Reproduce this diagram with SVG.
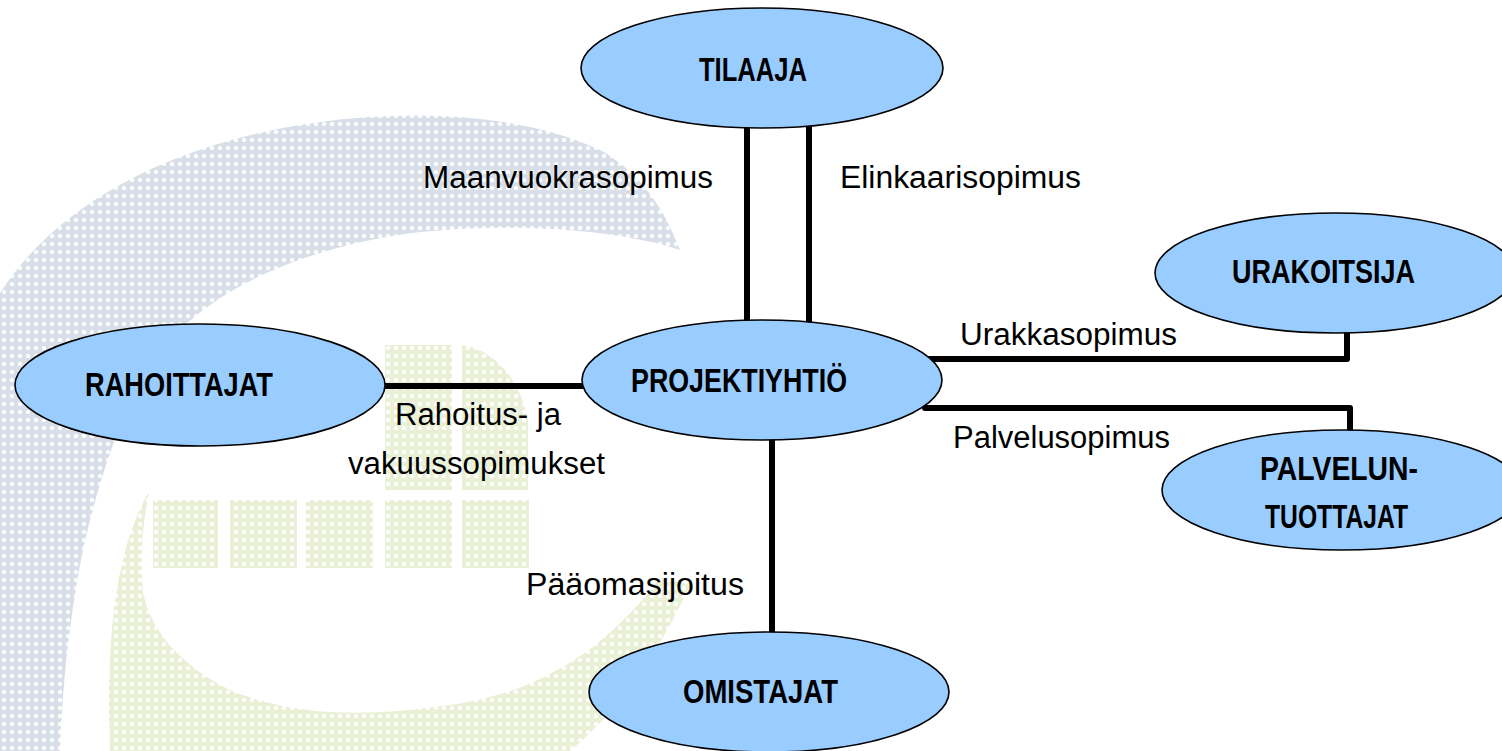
<svg xmlns="http://www.w3.org/2000/svg" width="1502" height="751" viewBox="0 0 1502 751">
<style>
.node{fill:#99ccff;stroke:#000;stroke-width:1.6}
.nt{font-family:"Liberation Sans",Arial,sans-serif;font-weight:bold;font-size:33px;fill:#000}
.lt{font-family:"Liberation Sans",Arial,sans-serif;font-size:31px;fill:#000}
.cn{fill:none;stroke:#000;stroke-width:6;stroke-linejoin:round;stroke-linecap:round}
</style>
<defs>
<pattern id="dotGrey" width="8" height="8" patternUnits="userSpaceOnUse">
<rect width="8" height="8" fill="#d9dfe8"/>
<rect x="2" y="2" width="4" height="4" rx="1.5" fill="#ffffff"/>
</pattern>
<pattern id="dotGreen" width="8" height="8" patternUnits="userSpaceOnUse">
<rect width="8" height="8" fill="#e9f0d6"/>
<rect x="2" y="2" width="4" height="4" rx="1.5" fill="#ffffff"/>
</pattern>
</defs>
<rect width="1502" height="751" fill="#ffffff"/>
<g id="watermark">
<path fill="url(#dotGrey)" d="M0,293 C50,215 150,150 300,125 C400,108 520,112 600,150 C640,172 665,210 680,250 C620,230 520,222 420,232 C320,244 230,280 180,330 C130,380 105,460 85,540 C70,610 62,690 60,751 L0,751 Z"/>
<path fill="url(#dotGreen)" d="M150,490 C120,540 105,620 110,751 L570,751 C620,710 660,650 690,585 L660,578 C620,630 560,690 450,705 C380,715 300,720 230,690 C180,665 150,630 143,592 C140,560 142,520 150,490 Z"/>
<g fill="url(#dotGreen)">
<rect x="153" y="500" width="65" height="68"/>
<rect x="230" y="500" width="67" height="68"/>
<rect x="306" y="500" width="67" height="68"/>
<rect x="385" y="500" width="67" height="68"/>
<rect x="462" y="500" width="67" height="68"/>
<rect x="385" y="345" width="67" height="145"/>
<path d="M462,345 C495,350 520,380 528,420 L528,490 L462,490 Z"/>
</g>
</g>
<g id="connectors">
<line class="cn" x1="747" y1="120" x2="747" y2="330"/>
<line class="cn" x1="809" y1="120" x2="809" y2="330"/>
<line class="cn" x1="380" y1="386" x2="590" y2="386"/>
<polyline class="cn" points="925,359 1347,359 1347,325"/>
<polyline class="cn" points="925,408 1350,408 1350,440"/>
<line class="cn" x1="772" y1="435" x2="772" y2="640"/>
<text class="lt" x="423" y="188" textLength="290" lengthAdjust="spacingAndGlyphs">Maanvuokrasopimus</text>
<text class="lt" x="840" y="188" textLength="241" lengthAdjust="spacingAndGlyphs">Elinkaarisopimus</text>
<text class="lt" x="960" y="345" textLength="217" lengthAdjust="spacingAndGlyphs">Urakkasopimus</text>
<text class="lt" x="953" y="448" textLength="217" lengthAdjust="spacingAndGlyphs">Palvelusopimus</text>
<text class="lt" x="395" y="425" textLength="166" lengthAdjust="spacingAndGlyphs">Rahoitus- ja</text>
<text class="lt" x="348" y="474" textLength="257" lengthAdjust="spacingAndGlyphs">vakuussopimukset</text>
<text class="lt" x="526" y="595" textLength="218" lengthAdjust="spacingAndGlyphs">Pääomasijoitus</text>
</g>
<g id="node-tilaaja">
<ellipse class="node" cx="762" cy="68" rx="181" ry="60"/>
<text class="nt" x="699" y="81" textLength="108" lengthAdjust="spacingAndGlyphs">TILAAJA</text>
</g>
<g id="node-urakoitsija">
<ellipse class="node" cx="1335" cy="273" rx="180" ry="60"/>
<text class="nt" x="1232" y="283" textLength="183" lengthAdjust="spacingAndGlyphs">URAKOITSIJA</text>
</g>
<g id="node-projektiyhtio">
<ellipse class="node" cx="762" cy="380" rx="180" ry="60"/>
<text class="nt" x="631" y="392" textLength="216" lengthAdjust="spacingAndGlyphs">PROJEKTIYHTIÖ</text>
</g>
<g id="node-rahoittajat">
<ellipse class="node" cx="200" cy="385" rx="185" ry="61"/>
<text class="nt" x="85" y="396" textLength="188" lengthAdjust="spacingAndGlyphs">RAHOITTAJAT</text>
</g>
<g id="node-palveluntuottajat">
<ellipse class="node" cx="1342" cy="490" rx="180" ry="60"/>
<text class="nt" x="1260" y="480" textLength="158" lengthAdjust="spacingAndGlyphs">PALVELUN-</text>
<text class="nt" x="1265" y="528" textLength="143" lengthAdjust="spacingAndGlyphs">TUOTTAJAT</text>
</g>
<g id="node-omistajat">
<ellipse class="node" cx="769" cy="692" rx="180" ry="60"/>
<text class="nt" x="683" y="703" textLength="155" lengthAdjust="spacingAndGlyphs">OMISTAJAT</text>
</g>
</svg>
